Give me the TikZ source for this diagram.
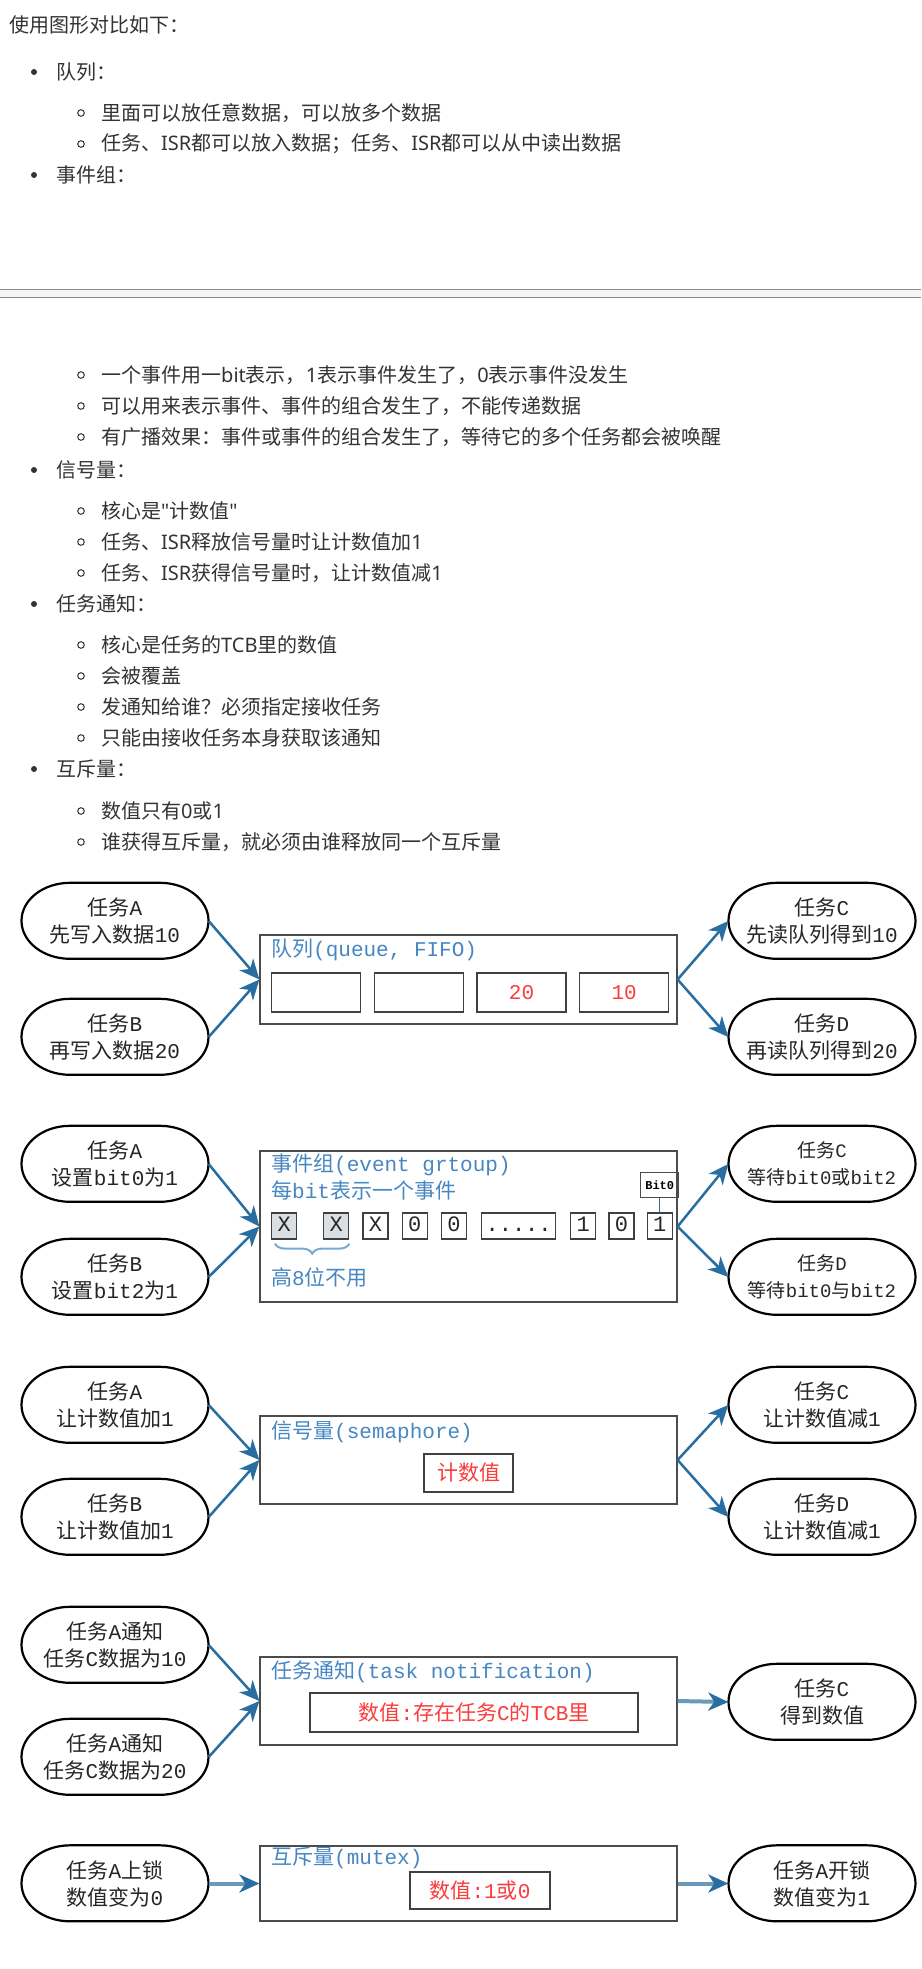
\documentclass[tikz,border=0pt]{standalone}
\usepackage{fontspec}
\setmainfont{Liberation Mono}
\newfontfamily\cjk{Noto Sans CJK SC}
\newfontfamily\mono{Liberation Mono}
\newfontfamily\sanslatin{Noto Sans}
\usepackage{xcolor}
\usetikzlibrary{arrows.meta, positioning, decorations.pathreplacing}

% CJK characters switch to the CJK font by themselves, other text to \latinfont
\newXeTeXintercharclass\cjkclass
\makeatletter
\def\setcjkrange#1#2{\count@=#1\relax
  \loop\XeTeXcharclass\count@=\cjkclass
  \ifnum\count@<#2\relax\advance\count@\@ne\repeat}
\makeatother
\setcjkrange{"3000}{"303F}
\setcjkrange{"4E00}{"9FFF}
\setcjkrange{"FF00}{"FFEF}
\newcommand\latinfont{\mono}
\XeTeXinterchartoks 0 \cjkclass = {\cjk}
\XeTeXinterchartoks 4095 \cjkclass = {\cjk}
\XeTeXinterchartoks \cjkclass 0 = {\latinfont}
\XeTeXinterchartoks \cjkclass 4095 = {\latinfont}
\newcommand\diagfont{\def\latinfont{\mono}\mono\XeTeXinterchartokenstate=1\relax}
\newcommand\notefont{\def\latinfont{\sanslatin}\sanslatin\XeTeXinterchartokenstate=1\relax}

\definecolor{arrowblue}{RGB}{40,110,160}
\definecolor{titleblue}{RGB}{70,135,195}
\definecolor{braceblue}{RGB}{120,168,216}
\definecolor{valred}{RGB}{250,60,60}
\definecolor{cellgray}{RGB}{220,223,225}
\definecolor{textgray}{RGB}{51,51,51}

\begin{document}
\begin{tikzpicture}[
    x=1pt, y=-1pt,
    para/.style={anchor=west, inner sep=0pt, text=textgray, font=\notefont\fontsize{20}{24}\selectfont},
    task/.style={minimum width=187pt, minimum height=76pt, align=center, text=black!85, font=\diagfont\fontsize{21}{27}\selectfont,
        append after command={\pgfextra{\draw[line width=2.2pt] ([xshift=-45pt]\tikzlastnode.north) -- ++(90pt,0)
            arc[start angle=90, end angle=-90, x radius=48.5pt, y radius=38pt] -- ++(-90pt,0)
            arc[start angle=270, end angle=90, x radius=48.5pt, y radius=38pt] -- cycle;}}},
    tasksmall/.style={task, font=\diagfont\fontsize{19}{27}\selectfont},
    ipcbox/.style={draw=black!70, line width=1.2pt, minimum width=417pt, minimum height=#1},
    title/.style={anchor=west, inner sep=0pt, text=titleblue, font=\diagfont\fontsize{21}{25}\selectfont},
    slot/.style={draw=black!75, line width=1.2pt, minimum width=89pt, minimum height=39pt, text=valred, font=\diagfont\fontsize{21}{25}\selectfont},
    cell/.style={draw=black!75, line width=1.2pt, inner sep=0pt, minimum width=25pt, minimum height=26pt, text height=15pt, text depth=4pt, text=black!85, font=\diagfont\fontsize{22}{24}\selectfont},
    bitlabel/.style={draw=black!70, line width=1pt, inner sep=0pt, minimum width=38pt, minimum height=25pt, font=\mono\bfseries\fontsize{12}{14}\selectfont},
    flow/.style={-{Stealth[length=20pt, width=18pt, inset=6pt]}, line width=2.5pt, arrowblue},
    push/.style={-{Stealth[length=20pt, width=18pt, inset=6pt, color=arrowblue]}, line width=4pt, arrowblue!70!white}
]

\path[fill=white, use as bounding box] (0,0) rectangle (921,1969);

\node[para] (intro) at (9,25) {使用图形对比如下：};

\fill[textgray] (34,72) circle (3pt);
\node[para] (qhead) at (56,72) {队列：};
\draw[textgray, line width=1pt] (81,113) circle (3.3pt) (81,144) circle (3.3pt);
\node[para] (qline1) at (101,113) {里面可以放任意数据，可以放多个数据};
\node[para] (qline2) at (101,144) {任务、ISR都可以放入数据；任务、ISR都可以从中读出数据};
\fill[textgray] (34,175) circle (3pt);
\node[para] (ehead) at (56,175) {事件组：};

\fill[black!4] (0,289) rectangle (921,297);
\draw[black!45, line width=1pt] (0,289) -- (921,289) (0,297) -- (921,297);

\draw[textgray, line width=1pt] (81,375) circle (3.3pt) (81,406) circle (3.3pt) (81,437) circle (3.3pt);
\node[para] (eline1) at (101,375) {一个事件用一bit表示，1表示事件发生了，0表示事件没发生};
\node[para] (eline2) at (101,406) {可以用来表示事件、事件的组合发生了，不能传递数据};
\node[para] (eline3) at (101,437) {有广播效果：事件或事件的组合发生了，等待它的多个任务都会被唤醒};
\fill[textgray] (34,470) circle (3pt);
\node[para] (shead) at (56,470) {信号量：};
\draw[textgray, line width=1pt] (81,511) circle (3.3pt) (81,542) circle (3.3pt) (81,573) circle (3.3pt);
\node[para] (sline1) at (101,511) {核心是"计数值"};
\node[para] (sline2) at (101,542) {任务、ISR释放信号量时让计数值加1};
\node[para] (sline3) at (101,573) {任务、ISR获得信号量时，让计数值减1};
\fill[textgray] (34,604) circle (3pt);
\node[para] (nhead) at (56,604) {任务通知：};
\draw[textgray, line width=1pt] (81,645) circle (3.3pt) (81,676) circle (3.3pt) (81,707) circle (3.3pt) (81,738) circle (3.3pt);
\node[para] (nline1) at (101,645) {核心是任务的TCB里的数值};
\node[para] (nline2) at (101,676) {会被覆盖};
\node[para] (nline3) at (101,707) {发通知给谁？必须指定接收任务};
\node[para] (nline4) at (101,738) {只能由接收任务本身获取该通知};
\fill[textgray] (34,769) circle (3pt);
\node[para] (mhead) at (56,769) {互斥量：};
\draw[textgray, line width=1pt] (81,811) circle (3.3pt) (81,842) circle (3.3pt);
\node[para] (mline1) at (101,811) {数值只有0或1};
\node[para] (mline2) at (101,842) {谁获得互斥量，就必须由谁释放同一个互斥量};

% queue
\node[ipcbox=89pt] (queue) at (468.5,979.5) {};
\node[title] (queuet) at (271,950) {队列(queue, FIFO)};
\node[slot, anchor=west] (q1) at (271,992.5) {};
\node[slot, right=12.5pt of q1] (q2) {};
\node[slot, right=12.5pt of q2] (q3) {20};
\node[slot, right=12.5pt of q3] (q4) {10};
\node[task] (qa) at (115,921) {任务A\\先写入数据10};
\node[task] (qb) at (115,1037) {任务B\\再写入数据20};
\node[task] (qc) at (822,921) {任务C\\先读队列得到10};
\node[task] (qd) at (822,1037) {任务D\\再读队列得到20};
\draw[flow] (qa.east) -- (queue.west);
\draw[flow] (qb.east) -- (queue.west);
\draw[flow] (queue.east) -- (qc.west);
\draw[flow] (queue.east) -- (qd.west);

% event group
\node[ipcbox=151pt] (evt) at (468.5,1226.5) {};
\node[title] (evtt) at (271,1165) {事件组(event grtoup)};
\node[title] (evtd) at (271,1190) {每bit表示一个事件};
\node[cell, fill=cellgray, anchor=west] (e1) at (271,1226) {X};
\node[cell, fill=cellgray, right=26pt of e1] (e2) {X};
\node[cell, right=13pt of e2] (e3) {X};
\node[cell, right=13pt of e3] (e4) {0};
\node[cell, right=13pt of e4] (e5) {0};
\node[cell, minimum width=74pt, right=14pt of e5] (e6) {.....};
\node[cell, right=14pt of e6] (e7) {1};
\node[cell, right=12pt of e7] (e8) {0};
\node[cell, right=12pt of e8] (e9) {1};
\node[bitlabel, above=14pt of e9] (bit0) {Bit0};
\draw[arrowblue, line width=1.2pt] (bit0) -- (e9);
\draw[braceblue, line width=2pt, decorate, decoration={brace, mirror, amplitude=10pt}]
    ([xshift=4pt, yshift=-4pt]e1.south west) -- ([yshift=-4pt]e2.south east);
\node[title] (evtn) at (271,1277) {高8位不用};
\node[task] (ea) at (115,1164) {任务A\\设置bit0为1};
\node[task] (eb) at (115,1277) {任务B\\设置bit2为1};
\node[tasksmall] (ec) at (822,1164) {任务C\\等待bit0或bit2};
\node[tasksmall] (ed) at (822,1277) {任务D\\等待bit0与bit2};
\draw[flow] (ea.east) -- (evt.west);
\draw[flow] (eb.east) -- (evt.west);
\draw[flow] (evt.east) -- (ec.west);
\draw[flow] (evt.east) -- (ed.west);

% semaphore
\node[ipcbox=88pt] (sem) at (468.5,1460) {};
\node[title] (semt) at (271,1432) {信号量(semaphore)};
\node[slot, minimum height=38pt] (semv) at (468.5,1473) {计数值};
\node[task] (sa) at (115,1405) {任务A\\让计数值加1};
\node[task] (sb) at (115,1517) {任务B\\让计数值加1};
\node[task] (sc) at (822,1405) {任务C\\让计数值减1};
\node[task] (sd) at (822,1517) {任务D\\让计数值减1};
\draw[flow] (sa.east) -- (sem.west);
\draw[flow] (sb.east) -- (sem.west);
\draw[flow] (sem.east) -- (sc.west);
\draw[flow] (sem.east) -- (sd.west);

% task notification
\node[ipcbox=88pt] (ntf) at (468.5,1701) {};
\node[title] (ntft) at (271,1672) {任务通知(task notification)};
\node[slot, minimum width=328pt] (ntfv) at (474,1712.5) {数值:存在任务C的TCB里};
\node[task] (na) at (115,1645) {任务A通知\\任务C数据为10};
\node[task] (nb) at (115,1757) {任务A通知\\任务C数据为20};
\node[task] (nc) at (822,1702) {任务C\\得到数值};
\draw[flow] (na.east) -- (ntf.west);
\draw[flow] (nb.east) -- (ntf.west);
\draw[push] (ntf.east) -- (nc.west);

% mutex
\node[ipcbox=75pt] (mtx) at (468.5,1883.5) {};
\node[title] (mtxt) at (271,1858) {互斥量(mutex)};
\node[slot, minimum width=140pt, minimum height=37pt] (mtxv) at (480,1890.5) {数值:1或0};
\node[task] (ma) at (115,1883.5) {任务A上锁\\数值变为0};
\node[task] (mb) at (822,1883.5) {任务A开锁\\数值变为1};
\draw[push] (ma.east) -- (mtx.west);
\draw[push] (mtx.east) -- (mb.west);

\end{tikzpicture}
\end{document}
